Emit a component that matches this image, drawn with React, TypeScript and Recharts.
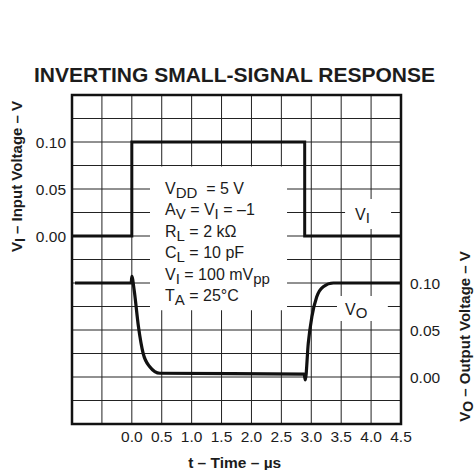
import React from 'react';
import { LineChart, Line, XAxis, YAxis, CartesianGrid, ReferenceArea } from 'recharts';

const FONT = '"Liberation Sans", Arial, Helvetica, sans-serif';
const INK = '#1c1c1c';

// Input step V_I (left axis)
const viTime = [-1, 0, 0, 2.89, 2.89, 4.5];
const viValue = [0, 0, 0.1, 0.1, 0, 0];

// Output response V_O (right axis)
const voTime = [-0.95, -0.01, 0.0, 0.04, 0.11, 0.19, 0.3, 0.47, 2.88, 2.9, 2.95, 3.01, 3.09, 3.2, 3.37, 4.5];
const voValue = [0.1, 0.1, 0.107, 0.092, 0.054, 0.025, 0.011, 0.004, 0.003, -0.003, 0.036, 0.064, 0.085, 0.096, 0.1, 0.1];

// Axis ticks (grid lines) and labelled ticks
const xTicks = [-1, -0.5, 0, 0.5, 1, 1.5, 2, 2.5, 3, 3.5, 4, 4.5];
const leftTicks = [-0.2, -0.175, -0.15, -0.125, -0.1, -0.075, -0.05, -0.025, 0, 0.025, 0.05, 0.075, 0.1, 0.125, 0.15];
const leftLabelled = [0, 0.05, 0.1];
const rightTicks = [0, 0.05, 0.1];
const xDomain = [-1, 4.5];
const leftDomain = [-0.2, 0.15];
const rightDomain = [-0.05, 0.3];

// Annotation boxes (left-axis data coordinates)
const conditionsBox = { x1: 0.304, x2: 2.595, y1: -0.079, y2: 0.074 };
const viBox = { x1: 3.565, x2: 4.334, y1: 0.0074, y2: 0.0394 };
const voBox = { x1: 3.43, x2: 4.28, y1: -0.0904, y2: -0.0638 };

const conditions: [string, string, string, string?][] = [
  ['V', 'DD', '  = 5 V'],
  ['A', 'V', ' = V', 'I'],
  ['R', 'L', ' = 2 k\u03A9'],
  ['C', 'L', ' = 10 pF'],
  ['V', 'I', ' = 100 mV', 'pp'],
  ['T', 'A', ' = 25\u00B0C'],
];

const viData = viTime.map((t, i) => ({ t, v: viValue[i] }));
const voData = voTime.map((t, i) => ({ t, v: voValue[i] }));

const SUB = 4;

const ConditionsText = (props: any) => {
  const vb = props.viewBox || {};
  const x0 = vb.x + 15;
  const y0 = vb.y + 27.5;
  return (
    <g>
      {conditions.map((row, i) => {
        const [a, s1, b, s2] = row;
        return (
          <text key={i} x={x0} y={y0 + i * 21.4} fontFamily={FONT} fontSize={16} fill={INK} style={{ whiteSpace: 'pre' }}>
            <tspan>{a}</tspan>
            <tspan dy={SUB} fontSize={15}>{s1}</tspan>
            <tspan dy={-SUB}>{b}</tspan>
            {s2 ? <tspan dy={SUB} fontSize={15}>{s2}</tspan> : null}
            {i === 1 ? <tspan dy={-SUB}>{' = \u20131'}</tspan> : null}
          </text>
        );
      })}
    </g>
  );
};

const SeriesTag = (main: string, sub: string, dxText: number, dyText: number) => (props: any) => {
  const vb = props.viewBox || {};
  return (
    <text x={vb.x + dxText} y={vb.y + dyText} fontFamily={FONT} fontSize={16} fill={INK}>
      <tspan>{main}</tspan>
      <tspan dy={3} fontSize={15}>{sub}</tspan>
    </text>
  );
};

const fmtLeft = (v: number) => (leftLabelled.some((l) => Math.abs(l - v) < 1e-9) ? v.toFixed(2) : '');
const fmtX = (v: number) => (v >= 0 ? v.toFixed(1) : '');

export default function App() {
  const W = 476;
  const H = 470;
  return (
    <div style={{ position: 'absolute', left: 0, top: 0, width: W, height: H, overflow: 'hidden' }}>
      <LineChart width={W} height={H} margin={{ top: 95, right: 0, bottom: 0, left: 0 }}>
        <CartesianGrid yAxisId="left" stroke="#222" strokeWidth={1} />
        <XAxis
          dataKey="t"
          type="number"
          domain={xDomain}
          allowDataOverflow
          ticks={xTicks}
          interval={0}
          tickFormatter={fmtX}
          axisLine={false}
          tickLine={false}
          tickSize={6}
          tickMargin={1}
          height={46}
          tick={{ fontSize: 15.5, fill: INK, fontFamily: FONT }}
        />
        <YAxis
          yAxisId="left"
          orientation="left"
          type="number"
          domain={leftDomain}
          allowDataOverflow
          ticks={leftTicks}
          interval={0}
          tickFormatter={fmtLeft}
          axisLine={false}
          tickLine={false}
          tickSize={6}
          tickMargin={0}
          width={72}
          tick={{ fontSize: 15.5, fill: INK, fontFamily: FONT }}
        />
        <YAxis
          yAxisId="right"
          orientation="right"
          type="number"
          domain={rightDomain}
          allowDataOverflow
          ticks={rightTicks}
          interval={0}
          tickFormatter={(v: number) => v.toFixed(2)}
          axisLine={false}
          tickLine={false}
          tickSize={6}
          tickMargin={3}
          width={75}
          tick={{ fontSize: 15.5, fill: INK, fontFamily: FONT }}
        />
        <ReferenceArea yAxisId="left" {...conditionsBox} fill="#fff" fillOpacity={1} stroke="none" ifOverflow="visible" label={ConditionsText} />
        <ReferenceArea yAxisId="left" {...viBox} fill="#fff" fillOpacity={1} stroke="none" ifOverflow="visible" label={SeriesTag('V', 'I', 10, 21)} />
        <ReferenceArea yAxisId="left" {...voBox} fill="#fff" fillOpacity={1} stroke="none" ifOverflow="visible" label={SeriesTag('V', 'O', 8, 19)} />
        <Line
          yAxisId="left"
          data={viData}
          dataKey="v"
          type="linear"
          stroke="#111"
          strokeWidth={3}
          dot={false}
          activeDot={false}
          isAnimationActive={false}
        />
        <Line
          yAxisId="right"
          data={voData}
          dataKey="v"
          type="monotone"
          stroke="#111"
          strokeWidth={3.2}
          dot={false}
          activeDot={false}
          isAnimationActive={false}
        />
        <ReferenceArea
          yAxisId="left"
          x1={xDomain[0]}
          x2={xDomain[1]}
          y1={leftDomain[0]}
          y2={leftDomain[1]}
          fill="none"
          stroke="#111"
          strokeWidth={2.5}
          ifOverflow="visible"
        />
      </LineChart>
      <svg width={W} height={H} style={{ position: 'absolute', left: 0, top: 0, pointerEvents: 'none' }}>
        <text x={234.5} y={82} textAnchor="middle" fontFamily={FONT} fontWeight="bold" fontSize={21} fill={INK}>
          INVERTING SMALL-SIGNAL RESPONSE
        </text>
        <text x={234.7} y={467.5} textAnchor="middle" fontFamily={FONT} fontWeight="bold" fontSize={15.5} fill={INK}>
          {'t \u2013 Time \u2013 \u00B5s'}
        </text>
        <text transform="translate(21.7,176.5) rotate(-90)" textAnchor="middle" fontFamily={FONT} fontWeight="bold" fontSize={15} fill={INK}>
          <tspan>V</tspan>
          <tspan dy={3} fontSize={14}>I</tspan>
          <tspan dy={-3}>{' \u2013 Input Voltage \u2013 V'}</tspan>
        </text>
        <text transform="translate(470,336.5) rotate(-90)" textAnchor="middle" fontFamily={FONT} fontWeight="bold" fontSize={15} fill={INK}>
          <tspan>V</tspan>
          <tspan dy={3} fontSize={14}>O</tspan>
          <tspan dy={-3}>{' \u2013 Output Voltage \u2013 V'}</tspan>
        </text>
      </svg>
    </div>
  );
}
